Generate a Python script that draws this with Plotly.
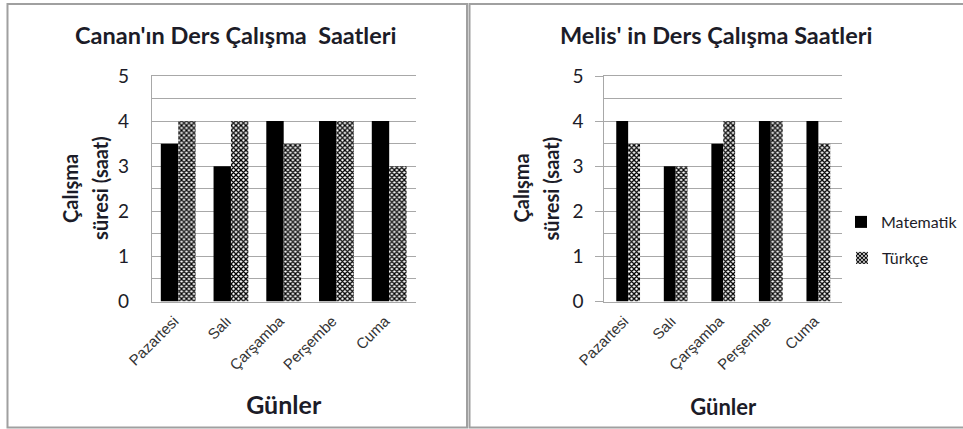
import plotly.graph_objects as go

# Days of the week and study hours for the two students
gunler = ["Pazartesi", "Salı", "Çarşamba", "Perşembe", "Cuma"]

canan_matematik = [3.5, 3, 4, 4, 4]
canan_turkce = [4, 4, 3.5, 4, 3]

melis_matematik = [4, 3, 3.5, 4, 4]
melis_turkce = [3.5, 3, 4, 4, 3.5]

W, H = 963, 429


def px(x):
    return x / W


def py(y):
    return 1 - y / H


TEXT = "#1c1c28"
GRID = "#a8a8a8"
TITLE_FONT = "Lato"
TICK_FONT = "Liberation Sans"

hatch = dict(shape="x", fgcolor="black", bgcolor="white", size=3.5, solidity=0.6)

fig = go.Figure()

# Left chart: Canan
wl = 0.33
fig.add_trace(go.Bar(x=gunler, y=canan_matematik, name="Matematik",
                     marker=dict(color="black", line=dict(width=0)),
                     width=wl, offset=-wl, xaxis="x", yaxis="y",
                     legend="legend", showlegend=True))
fig.add_trace(go.Bar(x=gunler, y=canan_turkce, name="Türkçe",
                     marker=dict(color="white", line=dict(width=0), pattern=hatch),
                     width=wl, offset=0, xaxis="x", yaxis="y",
                     legend="legend2", showlegend=True))

# Right chart: Melis
wr = 0.25
fig.add_trace(go.Bar(x=gunler, y=melis_matematik, name="Matematik",
                     marker=dict(color="black", line=dict(width=0)),
                     width=wr, offset=-wr, xaxis="x2", yaxis="y2",
                     showlegend=False))
fig.add_trace(go.Bar(x=gunler, y=melis_turkce, name="Türkçe",
                     marker=dict(color="white", line=dict(width=0), pattern=hatch),
                     width=wr, offset=0, xaxis="x2", yaxis="y2",
                     showlegend=False))

y_bottom, y_top = py(301.5), py(76)

# The mirrored x-axis line closes the top of each plot at y = 5
xaxis_common = dict(
    type="category", showgrid=False, showline=True, linecolor=GRID, linewidth=1,
    mirror=True, ticks="", tickangle=-45, automargin=False,
    ticklabelshift=-4, ticklabelstandoff=4,
    tickfont=dict(family=TICK_FONT, size=15, color="#333333"),
    fixedrange=True,
)
yaxis_common = dict(
    range=[0, 5], tickvals=[0, 1, 2, 3, 4, 5], showgrid=True,
    gridcolor=GRID, gridwidth=1, automargin=False,
    minor=dict(tickvals=[0.5, 1.5, 2.5, 3.5, 4.5], showgrid=True,
               gridcolor=GRID, gridwidth=1),
    showline=True, linecolor=GRID, linewidth=1, zeroline=False,
    tickfont=dict(family=TITLE_FONT, size=19, color=TEXT), fixedrange=True,
)

fig.update_layout(
    template="none",
    width=W, height=H,
    margin=dict(l=0, r=0, t=0, b=0, pad=0),
    paper_bgcolor="white", plot_bgcolor="white",
    barmode="overlay",
    xaxis=dict(xaxis_common, domain=[px(152), px(416)], anchor="y",
               title=dict(text="<b>Günler</b>", standoff=24,
                          font=dict(family=TITLE_FONT, size=25, color=TEXT))),
    yaxis=dict(yaxis_common, domain=[y_bottom, y_top], anchor="x",
               ticks="", ticklabelstandoff=18),
    xaxis2=dict(xaxis_common, domain=[px(605), px(843)], anchor="y2",
                title=dict(text="<b>Günler</b>", standoff=27,
                           font=dict(family=TITLE_FONT, size=22, color=TEXT))),
    yaxis2=dict(yaxis_common, domain=[y_bottom, y_top], anchor="x2",
                ticks="outside", ticklen=8, tickcolor=GRID, ticklabelstandoff=8),
    legend=dict(x=px(842), y=py(222), xanchor="left", yanchor="middle",
                font=dict(family=TITLE_FONT, size=16, color=TEXT),
                bgcolor="rgba(0,0,0,0)", borderwidth=0, itemwidth=30),
    legend2=dict(x=px(842), y=py(258), xanchor="left", yanchor="middle",
                 font=dict(family=TITLE_FONT, size=16, color=TEXT),
                 bgcolor="rgba(0,0,0,0)", borderwidth=0, itemwidth=30),
)

annotations = [
    dict(text="<b>Canan'ın Ders Çalışma  Saatleri</b>", x=px(236), y=py(35),
         font=dict(family=TITLE_FONT, size=23.5, color=TEXT)),
    dict(text="<b>Melis' in Ders Çalışma Saatleri</b>", x=px(717), y=py(35),
         font=dict(family=TITLE_FONT, size=23.5, color=TEXT)),
    dict(text="<b>Çalışma</b>", x=px(70), y=py(188), textangle=-90,
         font=dict(family=TITLE_FONT, size=20, color=TEXT)),
    dict(text="<b>süresi (saat)</b>", x=px(100), y=py(188), textangle=-90,
         font=dict(family=TITLE_FONT, size=20, color=TEXT)),
    dict(text="<b>Çalışma</b>", x=px(522), y=py(188), textangle=-90,
         font=dict(family=TITLE_FONT, size=20, color=TEXT)),
    dict(text="<b>süresi (saat)</b>", x=px(552), y=py(188), textangle=-90,
         font=dict(family=TITLE_FONT, size=20, color=TEXT)),
]
for a in annotations:
    a.update(xref="paper", yref="paper", xanchor="center", yanchor="middle",
             showarrow=False)
fig.update_layout(annotations=annotations)

# Panel frames around each chart
fig.update_layout(shapes=[
    dict(type="rect", xref="paper", yref="paper",
         x0=px(7.5), x1=px(467.5), y0=py(427.5), y1=py(4),
         line=dict(color="#a0a0a0", width=2), layer="below"),
    dict(type="rect", xref="paper", yref="paper",
         x0=px(470), x1=px(990), y0=py(427.5), y1=py(4),
         line=dict(color="#a0a0a0", width=2), layer="below"),
])

fig.write_html("out.html")
